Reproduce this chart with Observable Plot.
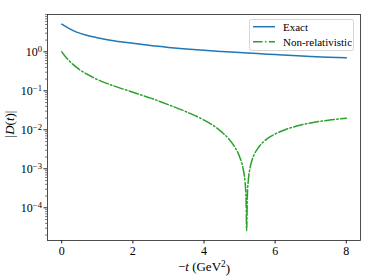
<!DOCTYPE html>
<html><head><meta charset="utf-8">
<script src="https://cdn.jsdelivr.net/npm/d3@7"></script>
<script src="https://cdn.jsdelivr.net/npm/@observablehq/plot@0.6"></script>
<style>
body{margin:0;background:#fff;}
#chart{width:374px;height:280px;}
</style></head>
<body><div id="chart"></div>
<script>
// Data
const tExact = [0, 0.2, 0.4, 0.7, 1.0, 1.5, 2.0, 2.5, 3.0, 3.5, 4.0, 4.5, 5.0, 5.5, 6.0, 6.5, 7.0, 7.5, 8.0];
const dExact = [5.1, 4.0, 3.25, 2.65, 2.3, 1.9, 1.65, 1.45, 1.3, 1.18, 1.09, 1.02, 0.96, 0.9, 0.85, 0.8, 0.76, 0.73, 0.70];
const tNR = [0, 0.1, 0.2, 0.3, 0.5, 0.75, 1.0, 1.5, 2.0, 2.5, 3.0, 3.5, 4.0, 4.3, 4.5, 4.7, 4.85, 5.0, 5.1, 5.15, 5.18, 5.2, 5.22, 5.25, 5.3, 5.4, 5.5, 5.65, 5.8, 6.0, 6.3, 6.7, 7.0, 7.5, 8.0];
const dNR = [1.0, 0.76, 0.60, 0.49, 0.35, 0.255, 0.195, 0.13, 0.092, 0.065, 0.044, 0.029, 0.0178, 0.0122, 0.0087, 0.0058, 0.0038, 0.00205, 0.001, 0.0005, 0.0002, 0.000026, 0.00022, 0.00055, 0.0011, 0.0022, 0.0032, 0.0047, 0.0061, 0.0078, 0.0102, 0.0131, 0.015, 0.0177, 0.0198];
const seriesNames = ["Exact", "Non-relativistic"];
const xTicks = [0, 2, 4, 6, 8];
const yTicks = [1, 0.1, 0.01, 0.001, 0.0001];
const yTickExp = ["0", "\u22121", "\u22122", "\u22123", "\u22124"];

const exact = tExact.map((t, i) => ({t, d: dExact[i]}));
const nr = tNR.map((t, i) => ({t, d: dNR[i]}));
const minor = [];
for (let k = -5; k <= 0; k++) for (let m = 2; m <= 9; m++) minor.push(m * Math.pow(10, k));

const blue = "#1f77b4", green = "#2ca02c";
const dashdot = "9.6,2.4,1.5,2.4";
const font = "'Liberation Serif', 'DejaVu Serif', serif";

const svg = Plot.plot({
  width: 374, height: 280,
  marginLeft: 47, marginRight: 14, marginTop: 14, marginBottom: 40,
  style: {fontFamily: font, fontSize: "12px", color: "#000", background: "#fff"},
  x: {domain: [-0.4, 8.4], label: null},
  y: {type: "log", domain: [1.45e-5, 9.06], label: null},
  marks: [
    Plot.line(exact, {x: "t", y: "d", stroke: blue, strokeWidth: 1.5, curve: "monotone-x"}),
    Plot.line(nr, {x: "t", y: "d", stroke: green, strokeWidth: 1.5, strokeDasharray: dashdot, curve: "monotone-x"}),
    Plot.axisX({ticks: xTicks, tickSize: 3.5, tickPadding: 2, tickFormat: d => String(d), stroke: "#222"}),
    Plot.axisY({ticks: yTicks, tickSize: 3.5, tickPadding: 2, stroke: "#222",
      tickFormat: d => "10^" + yTickExp[yTicks.indexOf(d)]}),
    Plot.axisY({ticks: minor.filter(v => v > 1.45e-5 && v < 9.06), tickSize: 2, stroke: "#222", strokeWidth: 0.6, tickFormat: () => ""}),
    Plot.frame({stroke: "#222", strokeWidth: 0.8})
  ]
});
document.getElementById("chart").appendChild(svg);

const NS = "http://www.w3.org/2000/svg";
function el(name, attrs, parent) {
  const e = document.createElementNS(NS, name);
  for (const k in attrs) e.setAttribute(k, attrs[k]);
  (parent || svg).appendChild(e);
  return e;
}
function span(parent, text, attrs) {
  const s = el("tspan", attrs || {}, parent);
  s.textContent = text;
  return s;
}

// superscripts on log tick labels
svg.querySelectorAll("text").forEach(t => {
  const s = t.textContent;
  if (s.includes("^")) {
    const [b, e] = s.split("^");
    t.textContent = "";
    span(t, b);
    span(t, e, {dy: "-0.45em", "font-size": "0.72em"});
  }
});

// axis labels
const xl = el("text", {x: 204, y: 271, "text-anchor": "middle", "font-family": font, "font-size": 13, fill: "#000"});
span(xl, "\u2212");
span(xl, "t", {"font-style": "italic"});
span(xl, " (GeV");
span(xl, "2", {dy: "-0.45em", "font-size": "0.72em"});
span(xl, ")", {dy: "0.45em"});

const yl = el("text", {transform: "translate(14,124) rotate(-90)", "text-anchor": "middle", "font-family": font, "font-size": 13, fill: "#000"});
span(yl, "|");
span(yl, "D", {"font-style": "italic"});
span(yl, "(");
span(yl, "t", {"font-style": "italic"});
span(yl, ")|");

// legend
el("rect", {x: 249.5, y: 19.5, width: 104, height: 31, rx: 2, fill: "#fff", "fill-opacity": 0.8, stroke: "#ccc", "stroke-width": 0.8});
const lg = [{c: blue, dash: null, y: 26.7}, {c: green, dash: dashdot, y: 41.7}];
lg.forEach((r, i) => {
  const a = {x1: 253, x2: 275, y1: r.y, y2: r.y, stroke: r.c, "stroke-width": 1.5};
  if (r.dash) a["stroke-dasharray"] = r.dash;
  el("line", a);
  const t = el("text", {x: 283, y: r.y, dy: "0.35em", "text-anchor": "start", "font-family": font, "font-size": 11, fill: "#000"});
  t.textContent = seriesNames[i];
});
</script>
</body></html>
